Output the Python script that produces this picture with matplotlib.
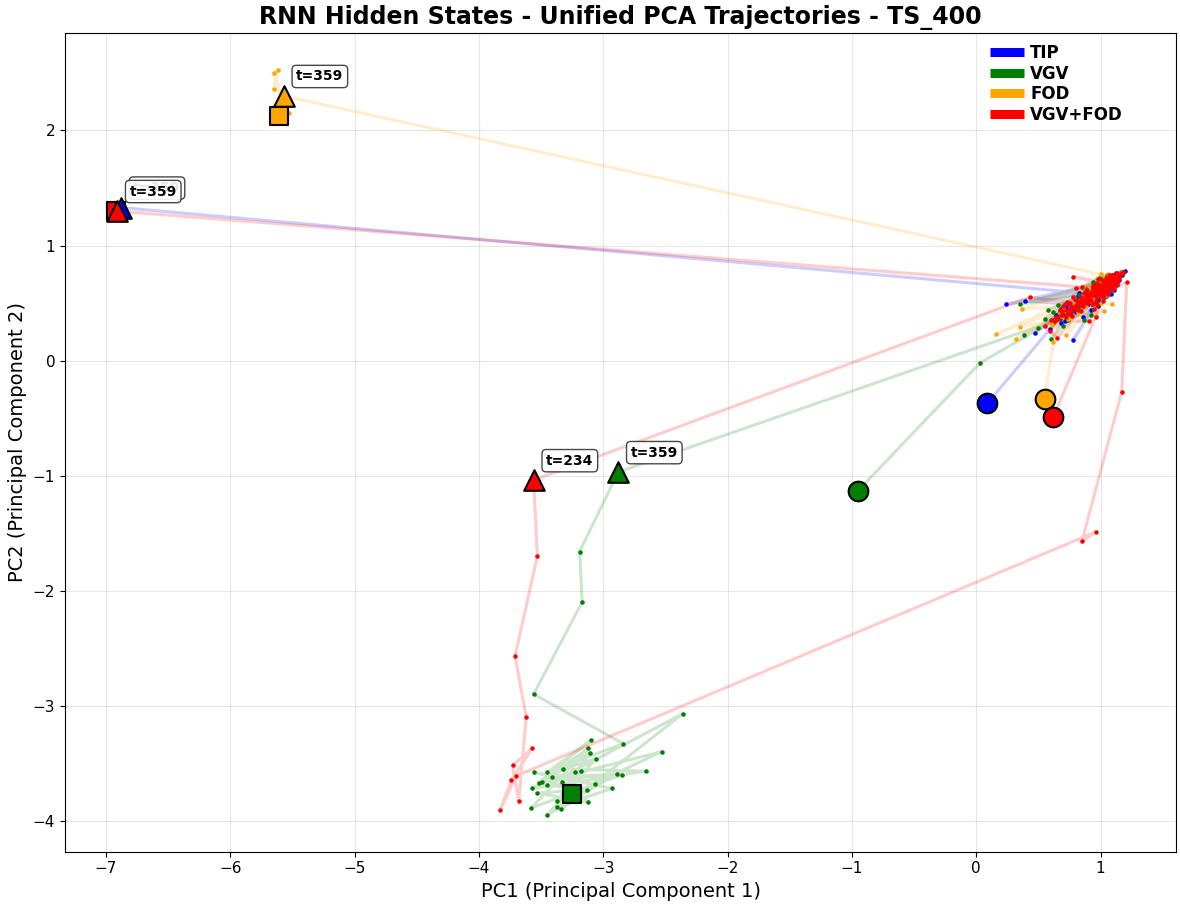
import matplotlib
matplotlib.use("Agg")
import matplotlib.pyplot as plt
from matplotlib.lines import Line2D

# class names and colours
classes = ["TIP", "VGV", "FOD", "VGV+FOD"]
colors = ["blue", "green", "orange", "red"]

# TIP trajectory (PC1, PC2)
tip_x = [0.09, 0.59,
         0.70, 0.98, 0.66, 1.05, 0.77, 0.92, 0.73, 1.09, 0.81, 0.87, 0.68, 1.00, 0.75, 0.95, 0.63,
         1.07, 0.79, 0.90, 0.72, 1.03,
         1.05, 0.94, 1.12, 0.87, 1.08, 0.97, 1.14, 0.90, 1.02, 0.79, 1.10, 0.95, 1.06, 0.84, 1.13,
         0.99, 1.04, 0.89, 1.09, 0.93, 1.01, 0.76, 1.15, 0.96, 1.07, 0.86, 1.11, 0.98, 1.03, 0.91,
         0.90, 1.10, 0.78, 1.02, 0.24, 0.95, 1.15, 0.85, 0.39, 1.06, 0.92, 1.20,
         0.99, 0.71, 1.12, 0.88, 0.47, 1.04, 0.80, 1.08, 0.96, 1.17, 0.74, 1.01, 0.86, 1.13,
         0.93, 0.68, 1.07, 0.98, 1.11, 0.82, 1.03, 0.64, 1.16, 0.91, 0.83, -6.88, -6.92]
tip_y = [-0.37, 0.27,
         0.42, 0.60, 0.38, 0.68, 0.47, 0.54, 0.45, 0.71, 0.50, 0.58, 0.33, 0.63, 0.40, 0.56, 0.36,
         0.66, 0.52, 0.49, 0.48, 0.62,
         0.66, 0.55, 0.73, 0.53, 0.69, 0.60, 0.72, 0.49, 0.67, 0.46, 0.64, 0.58, 0.71, 0.51, 0.68,
         0.62, 0.56, 0.57, 0.74, 0.50, 0.65, 0.43, 0.75, 0.63, 0.60, 0.55, 0.70, 0.53, 0.69, 0.58,
         0.55, 0.72, 0.18, 0.60, 0.49, 0.66, 0.70, 0.48, 0.52, 0.63, 0.44, 0.78,
         0.57, 0.34, 0.76, 0.60, 0.24, 0.68, 0.42, 0.58, 0.52, 0.74, 0.50, 0.71, 0.38, 0.66,
         0.62, 0.45, 0.74, 0.47, 0.61, 0.56, 0.64, 0.40, 0.77, 0.51, 0.59, 1.33, 1.30]

# VGV trajectory
vgv_x = [-0.95, 0.03,
         0.71, 0.96, 0.65, 1.03, 0.78, 0.91, 0.69, 1.08, 0.82, 0.88, 0.74, 0.99, 0.67, 0.94, 0.62,
         1.06, 0.80, 0.85, 0.76, 1.01,
         1.04, 0.91, 1.11, 0.86, 1.07, 0.96, 1.14, 0.89, 1.01, 0.77, 1.09, 0.94, 1.05, 0.82, 1.12,
         0.98, 1.02, 0.88, 1.08, 0.93, 1.00, 0.73, 1.16, 0.95, 1.06, 0.85, 1.10, 0.97, 1.03, 0.90,
         0.60, 0.95, 0.35, 1.08, 0.85, 0.38, 1.02, 0.78, 1.12, 0.92, 0.55, 1.05,
         0.88, 0.70, 1.15, 0.97, 0.62, 1.10, 0.83, 1.00, 0.74, 1.07, 0.94, 0.50, 1.13, 0.80,
         1.03, 0.66, 0.99, 1.18, 0.87, 1.06, 0.58, 0.96, 0.67, -2.88, -3.19, -3.17, -3.56,
         -2.84, -3.45, -3.10, -3.52, -2.53, -3.37, -3.11, -3.57, -2.66, -3.32, -3.06, -3.45,
         -2.89, -3.49, -3.12, -3.58, -2.85, -3.41, -3.18, -3.37, -2.93, -3.56, -3.07, -3.34,
         -2.36, -3.45, -3.13, -3.53, -3.12, -3.33, -3.23, -3.25]
vgv_y = [-1.13, -0.02,
         0.40, 0.61, 0.37, 0.66, 0.49, 0.53, 0.44, 0.70, 0.46, 0.57, 0.35, 0.64, 0.42, 0.55, 0.33,
         0.68, 0.51, 0.48, 0.45, 0.60,
         0.66, 0.54, 0.71, 0.50, 0.68, 0.59, 0.74, 0.56, 0.62, 0.44, 0.69, 0.52, 0.72, 0.47, 0.66,
         0.64, 0.57, 0.60, 0.73, 0.49, 0.67, 0.41, 0.75, 0.62, 0.58, 0.54, 0.70, 0.55, 0.71, 0.61,
         0.19, 0.58, 0.49, 0.70, 0.52, 0.22, 0.64, 0.46, 0.68, 0.40, 0.36, 0.74,
         0.62, 0.30, 0.72, 0.50, 0.42, 0.66, 0.57, 0.70, 0.38, 0.60, 0.68, 0.28, 0.75, 0.44,
         0.55, 0.48, 0.72, 0.76, 0.35, 0.67, 0.44, 0.61, 0.36, -0.97, -1.66, -2.10, -2.90,
         -3.33, -3.58, -3.30, -3.67, -3.40, -3.83, -3.41, -3.72, -3.57, -3.55, -3.46, -3.95,
         -3.59, -3.66, -3.37, -3.89, -3.60, -3.62, -3.57, -3.88, -3.72, -3.58, -3.68, -3.90,
         -3.07, -3.69, -3.73, -3.76, -3.84, -3.66, -3.58, -3.77]

# FOD trajectory
fod_x = [0.55, 0.62,
         0.69, 0.97, 0.64, 1.04, 0.76, 0.90, 0.72, 1.07, 0.80, 0.86, 0.67, 1.01, 0.74, 0.93, 0.61,
         1.09, 0.78, 0.88, 0.70, 1.02,
         1.03, 0.93, 1.10, 0.88, 1.06, 0.97, 1.13, 0.90, 1.02, 0.80, 1.08, 0.95, 1.04, 0.84, 1.12,
         0.99, 1.01, 0.87, 1.07, 0.92, 1.00, 0.75, 1.15, 0.96, 1.05, 0.86, 1.09, 0.98, 1.03, 0.91,
         0.96, 1.05, 0.16, 0.92, 1.10, 0.32, 0.88, 1.03, 0.35, 0.99, 1.14, 0.72,
         0.85, 1.09, 0.37, 1.01, 0.78, 1.12, 0.94, 0.68, 1.07, 0.90, 1.16, 0.82, 1.04, 0.60,
         0.97, 1.11, 0.86, 1.00, 0.74, 1.06, 1.00, -5.57, -5.65, -5.62, -5.65, -5.53, -5.61]
fod_y = [-0.33, 0.16,
         0.39, 0.59, 0.36, 0.65, 0.46, 0.55, 0.43, 0.70, 0.48, 0.56, 0.41, 0.62, 0.37, 0.54, 0.31,
         0.69, 0.50, 0.47, 0.44, 0.63,
         0.64, 0.56, 0.70, 0.52, 0.67, 0.61, 0.73, 0.55, 0.66, 0.48, 0.71, 0.57, 0.69, 0.50, 0.67,
         0.63, 0.59, 0.58, 0.74, 0.51, 0.68, 0.44, 0.76, 0.64, 0.61, 0.53, 0.72, 0.56, 0.72, 0.62,
         0.39, 0.66, 0.23, 0.58, 0.72, 0.19, 0.50, 0.43, 0.29, 0.62, 0.74, 0.22,
         0.55, 0.49, 0.45, 0.68, 0.47, 0.65, 0.53, 0.40, 0.70, 0.60, 0.77, 0.41, 0.57, 0.32,
         0.71, 0.69, 0.64, 0.50, 0.36, 0.75, 0.75, 2.30, 2.36, 2.53, 2.50, 2.15, 2.13]

# VGV+FOD trajectory
vf_x = [0.62, 0.96,
        1.05, 0.90, 1.12, 0.98, 1.08, 0.86, 1.16, 0.94, 1.03, 0.79, 1.10, 0.97, 1.01, 0.88, 1.14,
        0.92, 1.06, 0.83, 1.09, 0.99, 1.13, 0.95, 1.04, 0.87, 1.11, 0.93, 1.07, 0.81, 1.02, 0.96,
        1.15, 0.89, 1.05, 0.98, 1.10, 0.84, 1.12, 0.94, 1.00, 0.77, 1.08, 0.97, 1.13, 0.91, 1.04,
        0.86, 1.09, 1.01, 0.95, 1.17, 0.90, 1.06, 0.82, 1.11, 0.99, 1.03, 0.92, 1.14, 0.88, 1.07,
        1.05, 0.88, 1.12, 0.95, 1.08, 0.80, 1.15, 0.92, 1.02, 0.75, 1.10, 0.98,
        0.85, 1.06, 0.70, 1.13, 0.93, 1.01, 0.82, 1.09, 0.59, 0.96, 1.16, 0.89, 1.04, 0.78,
        1.11, 0.99, 0.86, 1.07, 0.94, 0.60, 0.91, 1.03, 0.90, 1.14, 0.97, 0.43, -3.56, -3.53,
        -3.71, -3.62, -3.68, -3.73, -3.57, -3.74, -3.83, -3.70, 0.96, 0.85, 1.17, 1.21,
        0.72, 0.95, 0.68, 1.02, 0.75, 0.88, 0.66, 1.06, 0.79, 0.92, 0.70, 0.99, 0.83, 1.10,
        0.74, 0.90, 0.64, 1.04, 0.78, 0.86, 0.69, 0.97, 0.81, 1.08, 0.73, 0.93, 0.67, 1.00,
        0.77, 0.89, 0.71, 1.12, 0.80, 0.94, 0.63, 1.05, 0.76, 0.87, 0.84, 1.01, 1.08,
        0.95, 1.12, 0.87, 1.04, 0.99, 1.15, 0.91, 1.06, 0.81, 1.10, 0.97, 1.02, 0.84, 1.13,
        0.93, 1.07, 0.76, 1.00, 1.18, 0.88, 1.05, 0.95, 1.11, 0.72, 0.98, 1.09, 0.80, 1.03,
        0.83, 1.14, 0.96, 0.55, 0.65, 1.01, 0.85, -6.91, -6.92]
vf_y = [-0.49, 0.38,
        0.70, 0.52, 0.73, 0.55, 0.68, 0.49, 0.75, 0.58, 0.66, 0.47, 0.71, 0.62, 0.60, 0.56, 0.72,
        0.53, 0.69, 0.50, 0.66, 0.64, 0.70, 0.57, 0.63, 0.53, 0.74, 0.60, 0.65, 0.48, 0.69, 0.56,
        0.73, 0.54, 0.64, 0.61, 0.67, 0.52, 0.69, 0.63, 0.58, 0.45, 0.72, 0.59, 0.76, 0.55, 0.67,
        0.51, 0.70, 0.65, 0.60, 0.76, 0.57, 0.62, 0.49, 0.68, 0.66, 0.57, 0.59, 0.71, 0.51, 0.73,
        0.62, 0.55, 0.70, 0.50, 0.66, 0.48, 0.74, 0.60, 0.55, 0.45, 0.72, 0.64,
        0.52, 0.58, 0.40, 0.68, 0.57, 0.70, 0.44, 0.63, 0.26, 0.52, 0.76, 0.61, 0.67, 0.73,
        0.65, 0.59, 0.47, 0.74, 0.66, 0.35, 0.34, 0.61, 0.54, 0.71, 0.48, 0.55, -1.04, -1.70,
        -2.57, -3.10, -3.83, -3.52, -3.37, -3.65, -3.91, -3.61, -1.49, -1.57, -0.27, 0.68,
        0.44, 0.62, 0.40, 0.66, 0.50, 0.55, 0.36, 0.69, 0.46, 0.58, 0.47, 0.63, 0.52, 0.71,
        0.41, 0.53, 0.38, 0.60, 0.55, 0.48, 0.43, 0.65, 0.45, 0.68, 0.51, 0.57, 0.44, 0.61,
        0.39, 0.50, 0.49, 0.74, 0.53, 0.64, 0.34, 0.70, 0.47, 0.59, 0.43, 0.56, 0.70,
        0.62, 0.66, 0.50, 0.72, 0.56, 0.73, 0.58, 0.64, 0.46, 0.69, 0.67, 0.52, 0.55, 0.75,
        0.49, 0.61, 0.42, 0.66, 0.77, 0.59, 0.68, 0.45, 0.62, 0.38, 0.71, 0.74, 0.63, 0.58,
        0.51, 0.69, 0.60, 0.30, 0.20, 0.63, 0.64, 1.30, 1.30]

# highlighted time steps (index into trajectory, label)
tip_marks = [(-2, "t=359")]
vgv_marks = [(87, "t=359")]
fod_marks = [(85, "t=359")]
vf_marks = [(100, "t=234"), (-2, "t=359")]

data = [(tip_x, tip_y, tip_marks), (vgv_x, vgv_y, vgv_marks),
        (fod_x, fod_y, fod_marks), (vf_x, vf_y, vf_marks)]

fig = plt.figure(figsize=(11.8, 9.09), dpi=100)
ax = fig.add_axes([0.055, 0.063, 0.942, 0.901])

for (xs, ys, marks), c in zip(data, colors):
    ax.plot(xs, ys, color=c, alpha=0.2, linewidth=2.2, zorder=2)
    ax.scatter(xs, ys, color=c, s=5, zorder=3)
    ax.scatter(xs[0], ys[0], marker="o", s=200, color=c, edgecolor="black", linewidth=1.5, zorder=5)
    ax.scatter(xs[-1], ys[-1], marker="s", s=180, color=c, edgecolor="black", linewidth=1.5, zorder=5)
    for i, lab in marks:
        ax.scatter(xs[i], ys[i], marker="^", s=220, color=c, edgecolor="black", linewidth=1.5, zorder=6)
        ax.annotate(lab, (xs[i], ys[i]), xytext=(9, 9), textcoords="offset points",
                    ha="left", va="bottom", fontsize=10, fontweight="bold", zorder=7,
                    bbox=dict(boxstyle="round,pad=0.3", facecolor="white", edgecolor="#333333", alpha=0.9))

handles = [Line2D([0], [0], color=c, linewidth=6.5, solid_capstyle="butt") for c in colors]
ax.legend(handles, classes, loc="upper right", frameon=False, bbox_to_anchor=(0.958, 0.994),
          borderaxespad=0, prop={"weight": "bold", "size": 12}, handlelength=2.0,
          handletextpad=0.4, labelspacing=0.15)

ax.set_xlim(-7.33, 1.61)
ax.set_ylim(-4.27, 2.85)
ax.grid(True, alpha=0.3)
ax.set_title("RNN Hidden States - Unified PCA Trajectories - TS_400", fontsize=17, fontweight="bold")
ax.set_xlabel("PC1 (Principal Component 1)", fontsize=14)
ax.set_ylabel("PC2 (Principal Component 2)", fontsize=14)
ax.tick_params(labelsize=11)

plt.savefig("out.png", dpi=100)
